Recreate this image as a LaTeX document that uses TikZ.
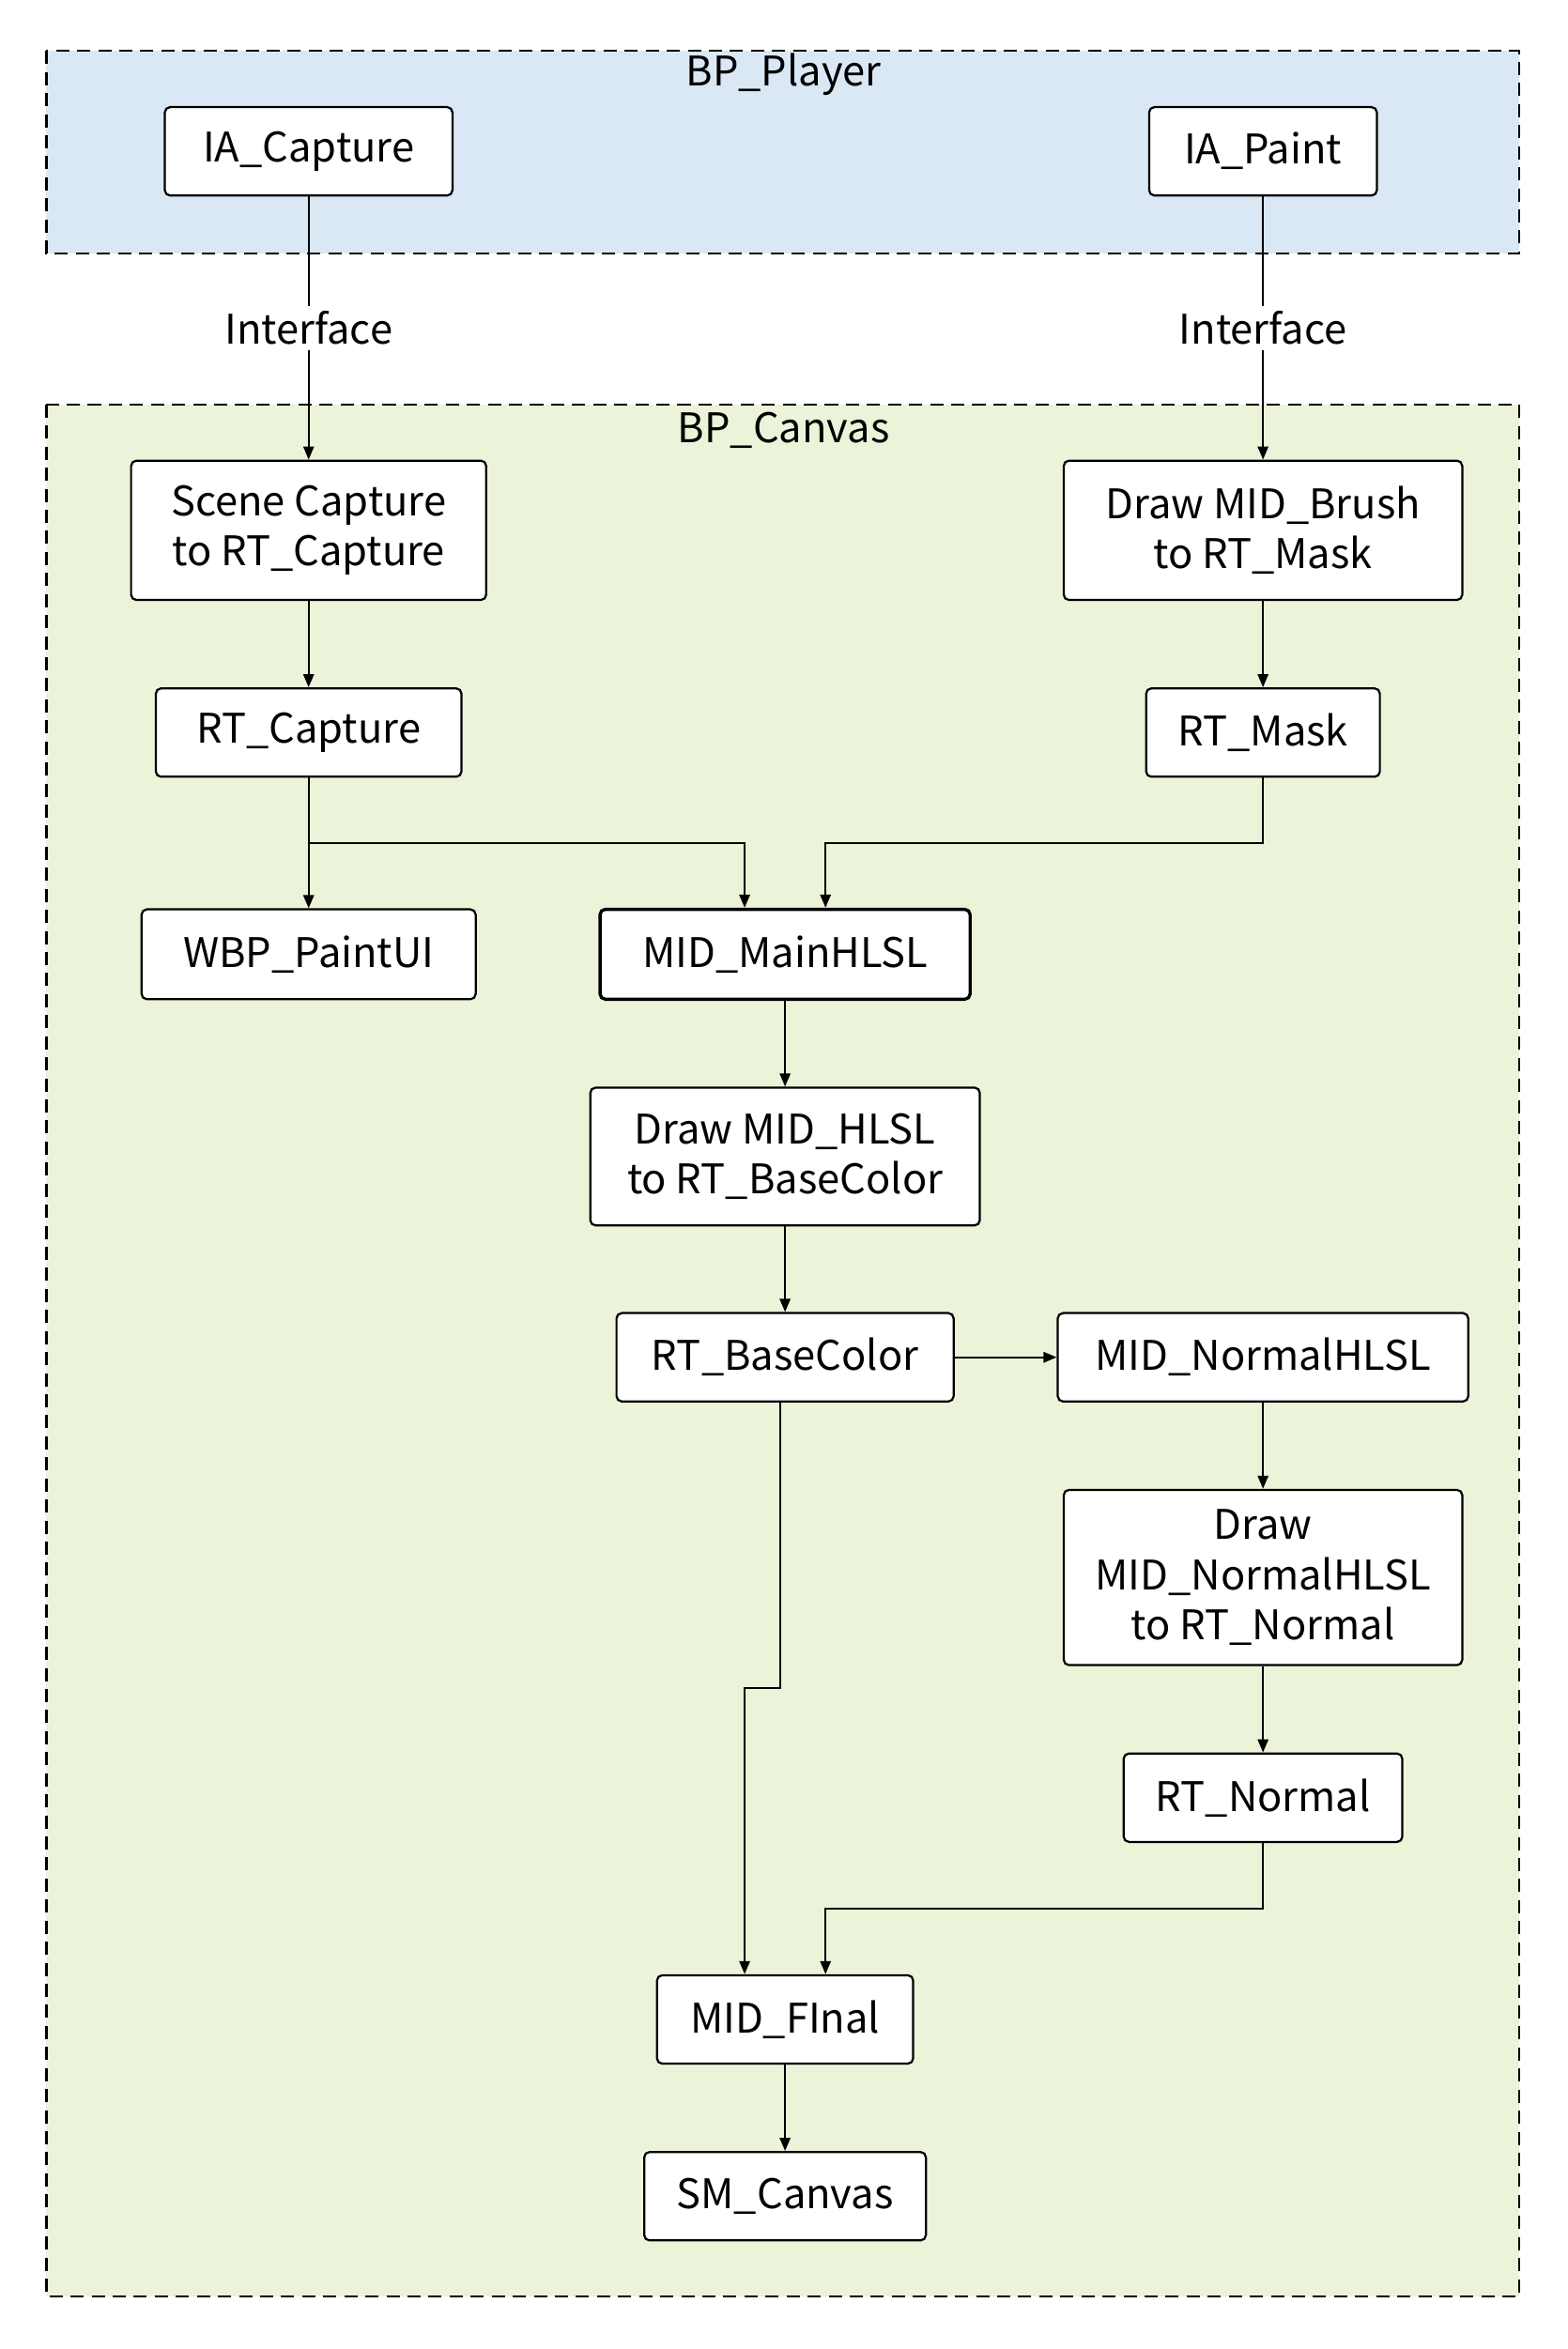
\documentclass[tikz,border=0pt]{standalone}
\usepackage{fontspec}
\setmainfont{Noto Sans CJK SC}
\usetikzlibrary{arrows.meta,positioning}
\tikzset{
  box/.style={draw, thick, rounded corners=2pt, fill=white, align=center, inner sep=0pt},
  grp/.style={draw, thick, dash pattern=on 5pt off 3pt},
  link/.style={thick, -{Triangle[length=5pt,width=4pt]}}
}
\begin{document}
\begin{tikzpicture}[x=0.02cm, y=-0.02cm, font=\fontsize{15.5}{19}\selectfont]
  \useasboundingbox (0,0) rectangle (1046,1568);
  % groups
  \draw[grp, fill={rgb,255:red,218;green,232;blue,245}] (31,34) rectangle (1014,169);
  \draw[grp, fill={rgb,255:red,235;green,243;blue,217}] (31,270) rectangle (1014,1533);
  \node (player) at (523,50) {BP\_Player};
  \node (canvas) at (523,287) {BP\_Canvas};

  % nodes
  \node[box, minimum width=192*0.02cm, minimum height=59*0.02cm] (capture) at (206,101) {IA\_Capture};
  \node[box, minimum width=152*0.02cm, minimum height=59*0.02cm] (paint) at (843,101) {IA\_Paint};
  \node[box, minimum width=237*0.02cm, minimum height=93*0.02cm] (scene) at (206,354) {Scene Capture\\to RT\_Capture};
  \node[box, minimum width=266*0.02cm, minimum height=93*0.02cm] (brush) at (843,354) {Draw MID\_Brush\\to RT\_Mask};
  \node[box, minimum width=204*0.02cm, minimum height=59*0.02cm] (rtcap) at (206,489) {RT\_Capture};
  \node[box, minimum width=156*0.02cm, minimum height=59*0.02cm] (rtmask) at (843,489) {RT\_Mask};
  \node[box, minimum width=223*0.02cm, minimum height=60*0.02cm] (ui) at (206,637) {WBP\_PaintUI};
  \node[box, very thick, minimum width=247*0.02cm, minimum height=60*0.02cm] (main) at (524,637) {MID\_MainHLSL};
  \node[box, minimum width=260*0.02cm, minimum height=92*0.02cm] (hlsl) at (524,772) {Draw MID\_HLSL\\to RT\_BaseColor};
  \node[box, minimum width=225*0.02cm, minimum height=59*0.02cm] (base) at (524,906) {RT\_BaseColor};
  \node[box, minimum width=274*0.02cm, minimum height=59*0.02cm] (normal) at (843,906) {MID\_NormalHLSL};
  \node[box, minimum width=266*0.02cm, minimum height=117*0.02cm] (drawn) at (843,1053) {Draw\\MID\_NormalHLSL\\to RT\_Normal};
  \node[box, minimum width=186*0.02cm, minimum height=59*0.02cm] (rtnorm) at (843,1200) {RT\_Normal};
  \node[box, minimum width=171*0.02cm, minimum height=59*0.02cm] (final) at (524,1348) {MID\_FInal};
  \node[box, minimum width=188*0.02cm, minimum height=59*0.02cm] (sm) at (524,1466) {SM\_Canvas};

  % bend points
  \coordinate (j1) at (206,563);
  \coordinate (j2) at (843,563);
  \coordinate (j3) at (521,1127);
  \coordinate (j4) at (843,1274);

  % connectors
  \draw[link] (capture) -- node[fill=white, inner sep=2pt] {Interface} (scene);
  \draw[link] (paint) -- node[fill=white, inner sep=2pt] {Interface} (brush);
  \draw[link] (scene) -- (rtcap);
  \draw[link] (brush) -- (rtmask);
  \draw[link] (rtcap) -- (ui);
  \draw[link] (rtcap.south) -- (j1) -| ([xshift=-27*0.02cm]main.north);
  \draw[link] (rtmask.south) -- (j2) -| ([xshift=27*0.02cm]main.north);
  \draw[link] (main) -- (hlsl);
  \draw[link] (hlsl) -- (base);
  \draw[link] (base) -- (normal);
  \draw[link] (normal) -- (drawn);
  \draw[link] (drawn) -- (rtnorm);
  \draw[link] ([xshift=-3*0.02cm]base.south) -- (j3) -| ([xshift=-27*0.02cm]final.north);
  \draw[link] (rtnorm.south) -- (j4) -| ([xshift=27*0.02cm]final.north);
  \draw[link] (final) -- (sm);
\end{tikzpicture}
\end{document}
